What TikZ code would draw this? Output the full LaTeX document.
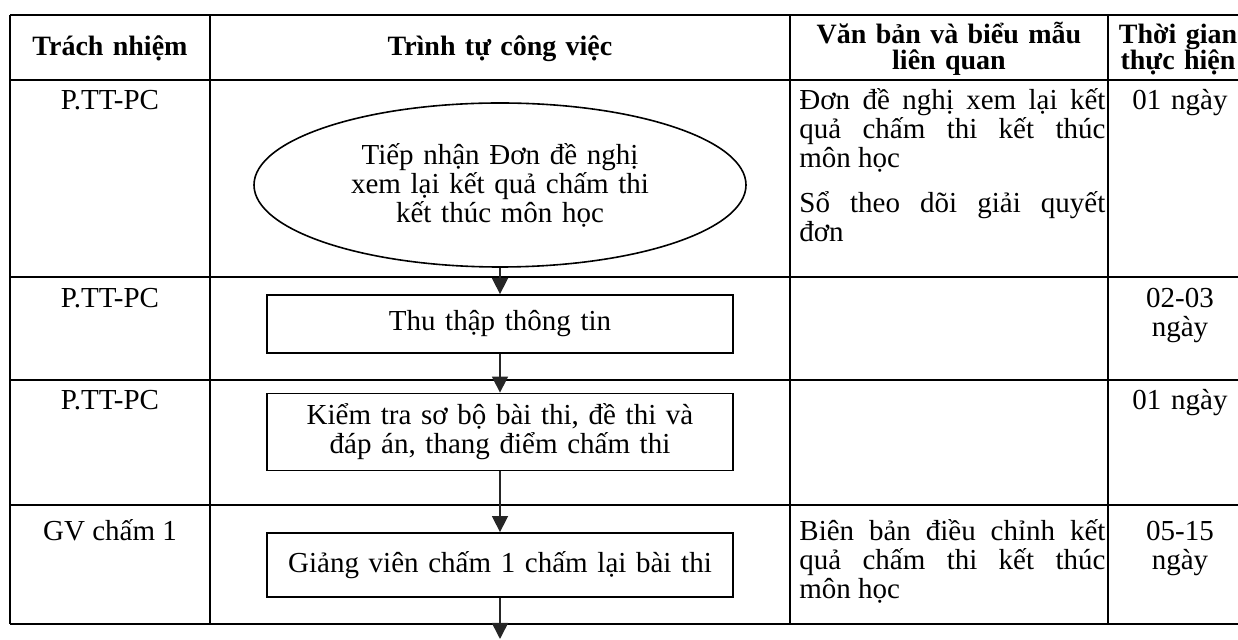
\documentclass[tikz,border=0pt]{standalone}
\usepackage{fontspec}
\setmainfont{Liberation Serif}
\usetikzlibrary{arrows.meta,shapes.geometric}
\begin{document}
\begin{tikzpicture}[x=0.5pt,y=-0.5pt,
  txt/.style={inner sep=0pt,font={\fontsize{14.5}{14.5}\selectfont\hyphenpenalty=10000\relax}},
  hd/.style={inner sep=0pt,font=\fontsize{14}{13}\selectfont\bfseries,text width=#1,align=center},
  stepbox/.style={txt,draw,line width=0.9pt,minimum width=233pt,text width=233pt,align=center},
  doc/.style={txt,anchor=base west,text width=153pt,align=justify},
  flow/.style={-{Triangle[width=8pt,length=8pt]},line width=0.8pt,draw=black!85,fill=black!75}]
\path[use as bounding box] (0,0) rectangle (1238,640);
\foreach \y in {15,80,277,380,505,624} \draw[line width=0.7pt] (10,\y) -- (1238,\y);
\foreach \x in {10,210,790,1108} \draw[line width=0.7pt] (\x,15) -- (\x,624);
\node[hd=90pt,anchor=base] (h1) at (110,56) {Trách nhiệm};
\node[hd=150pt,anchor=base] (h2) at (500,56) {Trình tự công việc};
\node[hd=160pt,anchor=base] (h3) at (949,44) {Văn bản và biểu mẫu\\liên quan};
\node[hd=70pt,anchor=base] (h4) at (1178,44) {Thời gian\\thực hiện};
\node[txt,anchor=base] (r1) at (110,110) {P.TT-PC};
\node[txt,anchor=base] (r2) at (110,308) {P.TT-PC};
\node[txt,anchor=base] (r3) at (110,410) {P.TT-PC};
\node[txt,anchor=base] (r4) at (110,541) {GV chấm 1};
\node[txt,draw,ellipse,line width=0.8pt,minimum width=246pt,minimum height=82pt,text width=160pt,align=center] (s1) at (500,185) {Tiếp nhận Đơn đề nghị\\xem lại kết quả chấm thi\\kết thúc môn học};
\node[stepbox,minimum height=29pt] (s2) at (500,324) {Thu thập thông tin};
\node[stepbox,minimum height=38.5pt] (s3) at (500,432) {Kiểm tra sơ bộ bài thi, đề thi và\\đáp án, thang điểm chấm thi};
\node[stepbox,minimum height=32pt] (s4) at (500,565) {Giảng viên chấm 1 chấm lại bài thi};
\coordinate (out) at (500,639);
\draw[flow] (s1.south) -- (s2.north);
\draw[flow] (s2.south) -- (s3.north);
\draw[flow] (s3.south) -- (s4.north);
\draw[flow] (s4.south) -- (out);
\node[doc] (d1) at (799,110) {Đơn đề nghị xem lại kết\linebreak quả chấm thi kết thúc\linebreak môn học\par\vspace{8pt}Sổ theo dõi giải quyết\linebreak đơn};
\node[doc] (d4) at (799,541) {Biên bản điều chỉnh kết\linebreak quả chấm thi kết thúc\linebreak môn học};
\node[txt,anchor=base,text width=60pt,align=center] (t1) at (1180,110) {01 ngày};
\node[txt,anchor=base,text width=60pt,align=center] (t2) at (1180,308) {02-03\\ngày};
\node[txt,anchor=base,text width=60pt,align=center] (t3) at (1180,410) {01 ngày};
\node[txt,anchor=base,text width=60pt,align=center] (t4) at (1180,541) {05-15\\ngày};
\end{tikzpicture}
\end{document}
